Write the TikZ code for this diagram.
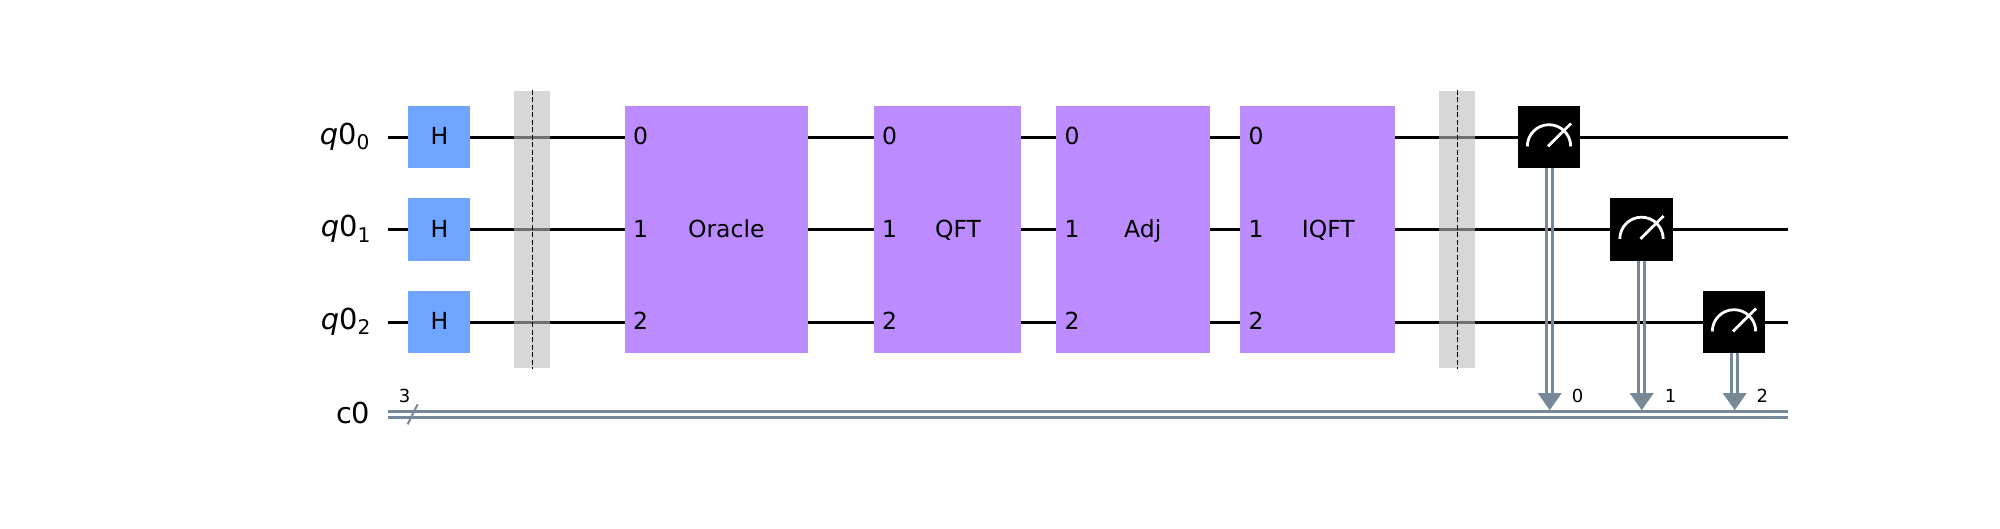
\documentclass[tikz,border=0pt]{standalone}
\usepackage{fontspec}
\setmainfont{DejaVu Sans}
\usetikzlibrary{arrows.meta}
\definecolor{hblue}{HTML}{6FA4FF}
\definecolor{gatepurple}{HTML}{BB8BFF}
\definecolor{slategray}{HTML}{778899}
\definecolor{barriergray}{HTML}{BDBDBD}
\tikzset{
  wire/.style={black,line width=2.8pt},
  cwire/.style={slategray,line width=2.8pt},
  gatebase/.style={rectangle,inner sep=0pt,outer sep=0pt,draw=none,font=\fontsize{23.5}{28}\selectfont,text=black},
  hgate/.style={gatebase,fill=hblue,minimum width=62pt,minimum height=62pt},
  bigbox/.style={rectangle,inner sep=0pt,outer sep=0pt,fill=gatepurple,minimum height=247pt},
  lbl/.style={inner sep=0pt,outer sep=0pt,anchor=base,font=\fontsize{23.5}{28}\selectfont,text=black},
  pin/.style={inner sep=0pt,outer sep=0pt,anchor=base west,font=\fontsize{23.5}{28}\selectfont,text=black},
  reglabel/.style={inner sep=0pt,outer sep=0pt,anchor=base east,font=\fontsize{28.9}{34}\selectfont,text=black},
  smalllbl/.style={inner sep=0pt,outer sep=0pt,anchor=base,font=\fontsize{18}{22}\selectfont,text=black},
  barrierbox/.style={rectangle,inner sep=0pt,outer sep=0pt,fill=barriergray,fill opacity=0.6,minimum width=36pt,minimum height=277pt},
  barrierline/.style={black,line width=1.3pt,dash pattern=on 5pt off 2.5pt},
  meas/.style={rectangle,inner sep=0pt,outer sep=0pt,fill=black,minimum width=62pt,minimum height=62pt},
  dial/.style={white,line width=2.8pt},
  tip/.style={slategray,line width=0.1pt,-{Triangle[length=17pt,width=24pt,fill=slategray]}},
}
\newcommand{\qlab}[1]{{\itshape q}0\raisebox{-5.5pt}{\fontsize{20.2}{24}\selectfont #1}}
\begin{document}
\begin{tikzpicture}[x=1pt,y=-1pt]
\useasboundingbox (0,0) rectangle (2000,528);
\fill[white] (0,0) rectangle (2000,528);

% wire end points
\coordinate (w0L) at (388,137.3); \coordinate (w0R) at (1788,137.3);
\coordinate (w1L) at (388,229.3); \coordinate (w1R) at (1788,229.3);
\coordinate (w2L) at (388,322.3); \coordinate (w2R) at (1788,322.3);
\coordinate (c1L) at (388,411.3); \coordinate (c1R) at (1788,411.3);
\coordinate (c2L) at (388,417.3); \coordinate (c2R) at (1788,417.3);

% wires
\draw[wire] (w0L) -- (w0R);
\draw[wire] (w1L) -- (w1R);
\draw[wire] (w2L) -- (w2R);
\draw[cwire] (c1L) -- (c1R);
\draw[cwire] (c2L) -- (c2R);

% register slash
\coordinate (s1) at (407.7,424.3); \coordinate (s2) at (417.7,404.3);
\draw[slategray,line width=2pt] (s1) -- (s2);
\node[smalllbl] (three) at (404.7,402.5) {3};

% register labels
\node[reglabel] (lq0) at (369.5,144) {\qlab{0}};
\node[reglabel] (lq1) at (370.5,236.5) {\qlab{1}};
\node[reglabel] (lq2) at (370.5,329) {\qlab{2}};
\node[reglabel] (lc0) at (370.3,423.3) {c0};

% H gates
\node[hgate] (h0) at (439,137) {};
\node[hgate,minimum height=63pt] (h1) at (439,229.5) {};
\node[hgate] (h2) at (439,322) {};
\node[lbl] (th0) at (439.5,144) {H};
\node[lbl] (th1) at (439.5,237) {H};
\node[lbl] (th2) at (439.5,329) {H};

% barriers
\node[barrierbox] (b1) at (532,229.3) {};
\node[barrierbox] (b2) at (1457,229.3) {};
\draw[barrierline] ([xshift=0.7pt,yshift=1pt]b1.north) -- ([xshift=0.7pt,yshift=-1pt]b1.south);
\draw[barrierline] ([xshift=0.4pt,yshift=1pt]b2.north) -- ([xshift=0.4pt,yshift=-1pt]b2.south);

% composite gates
\node[bigbox,minimum width=183pt] (oracle) at (716.5,229.5) {};
\node[bigbox,minimum width=147pt] (qft) at (947.5,229.5) {};
\node[bigbox,minimum width=154pt] (adj) at (1133,229.5) {};
\node[bigbox,minimum width=155pt] (iqft) at (1317.5,229.5) {};
\node[lbl] (toracle) at (726.3,237) {Oracle};
\node[lbl] (tqft) at (958,237) {QFT};
\node[lbl] (tadj) at (1142.7,237) {Adj};
\node[lbl] (tiqft) at (1328.3,237) {IQFT};
\foreach \g/\x in {oracle/633,qft/882,adj/1064.5,iqft/1248.5}{
  \node[pin] (\g p0) at (\x,144) {0};
  \node[pin] (\g p1) at (\x,237) {1};
  \node[pin] (\g p2) at (\x,329.5) {2};
}

% measurements
\node[meas] (m0) at (1549,137) {};
\node[meas,minimum width=63pt,minimum height=63pt] (m1) at (1641.5,229.5) {};
\node[meas] (m2) at (1734,322) {};
\foreach \m in {m0,m1,m2}{
  \draw[dial] ([shift={(-21.7pt,-9.4pt)}]\m.center) arc[start angle=180,end angle=360,radius=21.7];
  \draw[dial] ([shift={(-1pt,-9.4pt)}]\m.center) -- ([shift={(22pt,13.5pt)}]\m.center);
}

% classical connections
\coordinate (t0) at (1549.7,410);
\coordinate (t1) at (1641.7,410);
\coordinate (t2) at (1734.7,410);
\foreach \m/\t in {m0/t0,m1/t1,m2/t2}{
  \draw[cwire] ([xshift=-3pt]\t|-\m.south) -- ([xshift=-3pt,yshift=12pt]\t);
  \draw[cwire] ([xshift=3pt]\t|-\m.south) -- ([xshift=3pt,yshift=12pt]\t);
  \draw[tip] ([yshift=17pt]\t) -- (\t);
}
\node[smalllbl] (d0) at (1577.7,402.5) {0};
\node[smalllbl] (d1) at (1670.7,402.5) {1};
\node[smalllbl] (d2) at (1762.3,402.5) {2};
\end{tikzpicture}
\end{document}
